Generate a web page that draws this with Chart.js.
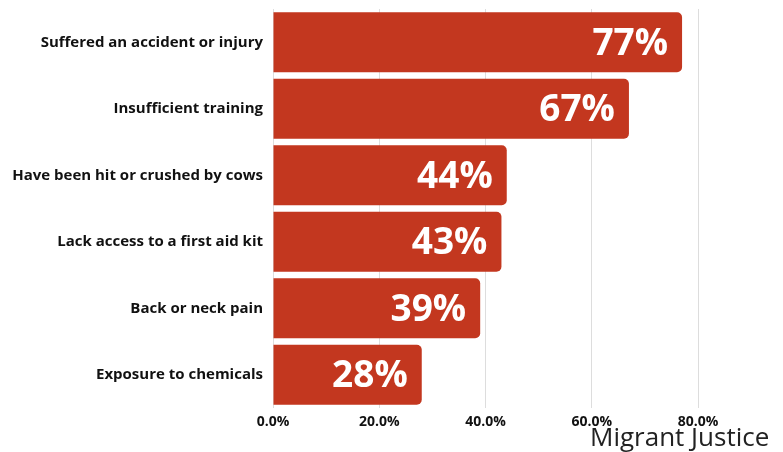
<!DOCTYPE html>
<html>
<head>
<meta charset="utf-8">
<script src="https://cdn.jsdelivr.net/npm/chart.js@4"></script>
<style>
html,body{margin:0;padding:0;background:#fff;}
#wrap{position:relative;width:783px;height:452px;}
#note{position:absolute;left:590px;top:421px;font-family:"Open Sans",sans-serif;font-size:26px;color:#222;white-space:nowrap;line-height:30px;}
</style>
</head>
<body>
<div id="wrap">
<canvas id="c" width="783" height="452"></canvas>
<div id="note">Migrant Justice</div>
</div>
<script>
const categories = [
  "Suffered an accident or injury",
  "Insufficient training",
  "Have been hit or crushed by cows",
  "Lack access to a first aid kit",
  "Back or neck pain",
  "Exposure to chemicals"
];
const values = [77, 67, 44, 43, 39, 28];
const valueLabels = ["77%", "67%", "44%", "43%", "39%", "28%"];
const xTicks = [0, 20, 40, 60, 80];

const labelPlugin = {
  id: 'barValues',
  afterDatasetsDraw(chart) {
    const ctx = chart.ctx;
    const meta = chart.getDatasetMeta(0);
    ctx.save();
    ctx.fillStyle = '#ffffff';
    ctx.font = 'bold 37px "Open Sans", sans-serif';
    ctx.textAlign = 'right';
    ctx.textBaseline = 'middle';
    meta.data.forEach((bar, i) => {
      ctx.fillText(valueLabels[i], bar.x - 14, bar.y + 2);
    });
    ctx.restore();
  }
};

new Chart(document.getElementById('c'), {
  type: 'bar',
  data: {
    labels: categories,
    datasets: [{
      data: values,
      backgroundColor: '#c3371f',
      borderRadius: 5,
      borderSkipped: 'start',
      barPercentage: 0.9,
      categoryPercentage: 1.0
    }]
  },
  options: {
    indexAxis: 'y',
    responsive: false,
    animation: false,
    devicePixelRatio: 1,
    layout: { padding: { top: 9, right: 85, left: 0, bottom: 0 } },
    plugins: { legend: { display: false }, tooltip: { enabled: false } },
    scales: {
      x: {
        min: 0, max: 80,
        afterBuildTicks(scale) { scale.ticks = xTicks.map(v => ({ value: v })); },
        afterFit(scale) { scale.height = 44; scale.paddingRight = 0; scale.paddingLeft = 0; },
        grid: { color: '#dddddd', drawTicks: false, lineWidth: 1 },
        border: { display: false },
        ticks: {
          padding: 6,
          color: '#111111',
          font: { family: '"Open Sans", sans-serif', weight: 'bold', size: 14 },
          callback: (v) => Number(v).toFixed(1) + '%'
        }
      },
      y: {
        afterFit(scale) { scale.width = 273; scale.paddingTop = 0; scale.paddingBottom = 0; },
        grid: { display: false, drawTicks: false },
        border: { display: false },
        ticks: {
          padding: 10,
          color: '#111111',
          font: { family: '"Open Sans", sans-serif', weight: 'bold', size: 15 }
        }
      }
    }
  },
  plugins: [labelPlugin]
});
</script>
</body>
</html>
